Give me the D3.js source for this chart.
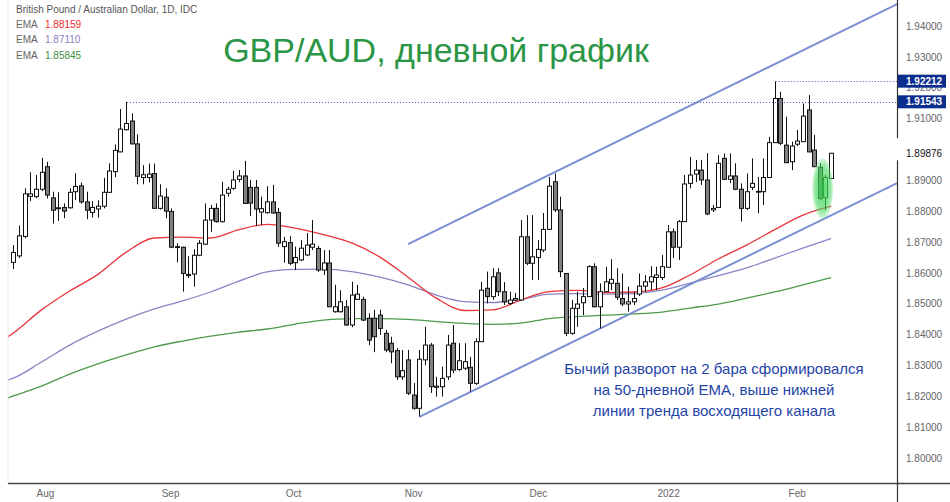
<!DOCTYPE html>
<html><head><meta charset="utf-8">
<script src="https://cdn.jsdelivr.net/npm/d3@7"></script>
<style>body{margin:0;background:#fff}svg{display:block}</style>
</head><body>
<svg id="c" width="950" height="502"></svg>
<script>
// ---------- DATA ----------
const opens = [1.8634,1.8655,1.8718,1.8848,1.8847,1.8871,1.8944,1.8843,1.8808,1.8812,
1.8811,1.8863,1.8882,1.8830,1.8796,1.8807,1.8816,1.8861,1.8928,1.8992,
1.9064,1.9092,1.9018,1.8909,1.8909,1.8922,1.8809,1.8845,1.8799,1.8685,
1.8683,1.8595,1.8596,1.8657,1.8693,1.8771,1.8809,1.8766,1.8858,1.8874,
1.8903,1.8914,1.8877,1.8877,1.8797,1.8795,1.8830,1.8796,1.8685,1.8698,
1.8633,1.8642,1.8658,1.8683,1.8679,1.8609,1.8632,1.8474,1.8474,1.8490,
1.8431,1.8514,1.8514,1.8453,1.8453,1.8463,1.8404,1.8372,1.8348,1.8263,
1.8318,1.8204,1.8161,1.8318,1.8366,1.8229,1.8231,1.8263,1.8372,1.8287,
1.8291,1.8294,1.8242,1.8377,1.8550,1.8523,1.8600,1.8539,1.8501,1.8512,
1.8512,1.8717,1.8631,1.8650,1.8674,1.8741,1.8895,1.8804,1.8598,1.8404,
1.8485,1.8503,1.8523,1.8620,1.8490,1.8539,1.8566,1.8566,1.8517,1.8499,
1.8506,1.8531,1.8557,1.8571,1.8585,1.8585,1.8618,1.8733,1.8683,1.8766,
1.8890,1.8920,1.8933,1.8901,1.8804,1.8812,1.8971,1.8903,1.8914,1.8871,
1.8809,1.8877,1.8864,1.8863,1.8909,1.9022,1.9165,1.9014,1.8960,1.9017,
1.9025,1.9128,1.8998,1.8942,1.8845,1.8906];
const highs = [1.8690,1.8753,1.8874,1.8926,1.8917,1.8973,1.8960,1.8863,1.8861,1.8825,
1.8874,1.8923,1.8893,1.8863,1.8833,1.8835,1.8908,1.8955,1.9016,1.9131,
1.91543,1.9117,1.9049,1.8949,1.8954,1.8954,1.8887,1.8874,1.8809,1.8696,
1.8685,1.8654,1.8676,1.8706,1.8825,1.8820,1.8825,1.8895,1.8879,1.8931,
1.8933,1.8963,1.8901,1.8901,1.8847,1.8881,1.8885,1.8810,1.8717,1.8719,
1.8685,1.8706,1.8729,1.8771,1.8687,1.8674,1.8674,1.8561,1.8544,1.8512,
1.8571,1.8561,1.8523,1.8469,1.8480,1.8480,1.8415,1.8393,1.8356,1.8350,
1.8350,1.8243,1.8350,1.8425,1.8373,1.8263,1.8296,1.8399,1.8431,1.8372,
1.8372,1.8328,1.8388,1.8571,1.8604,1.8615,1.8615,1.8570,1.8539,1.8535,
1.8771,1.8787,1.8787,1.8706,1.8794,1.8911,1.8922,1.8847,1.8599,1.8512,
1.8539,1.8551,1.8625,1.8631,1.8566,1.8620,1.8644,1.8615,1.8598,1.8555,
1.8539,1.8598,1.8593,1.8622,1.8620,1.8658,1.8755,1.8744,1.8771,1.8917,
1.8976,1.8966,1.8966,1.8988,1.8820,1.8982,1.8987,1.8987,1.8955,1.8890,
1.8922,1.8971,1.8911,1.8971,1.9041,1.92212,1.9187,1.9106,1.9025,1.9063,
1.9149,1.9176,1.9047,1.8955,1.8917,1.8988];
const lows = [1.8612,1.8648,1.8712,1.8833,1.8842,1.8865,1.8841,1.8760,1.8768,1.8777,
1.8808,1.8836,1.8824,1.8774,1.8779,1.8779,1.8809,1.8859,1.8910,1.8991,
1.9061,1.9016,1.8887,1.8887,1.8893,1.8807,1.8805,1.8777,1.8680,1.8634,
1.8539,1.8583,1.8555,1.8654,1.8690,1.8733,1.8763,1.8763,1.8847,1.8868,
1.8894,1.8823,1.8784,1.8752,1.8755,1.8792,1.8791,1.8684,1.8633,1.8625,
1.8609,1.8638,1.8654,1.8674,1.8603,1.8593,1.8489,1.8471,1.8471,1.8428,
1.8424,1.8512,1.8444,1.8366,1.8343,1.8399,1.8343,1.8307,1.8253,1.8253,
1.8204,1.8156,1.8134,1.8301,1.8211,1.8199,1.8199,1.8253,1.8275,1.8282,
1.8285,1.8215,1.8237,1.8376,1.8501,1.8512,1.8525,1.8496,1.8496,1.8509,
1.8509,1.8625,1.8577,1.8577,1.8667,1.8739,1.8797,1.8586,1.8395,1.8399,
1.8425,1.8463,1.8522,1.8489,1.8420,1.8538,1.8544,1.8512,1.8492,1.8474,
1.8496,1.8525,1.8538,1.8544,1.8544,1.8577,1.8616,1.8648,1.8642,1.8765,
1.8874,1.8894,1.8885,1.8787,1.8797,1.8810,1.8901,1.8891,1.8868,1.8766,
1.8804,1.8868,1.8793,1.8820,1.8907,1.9021,1.9014,1.8956,1.8933,1.9011,
1.9024,1.8991,1.8943,1.8836,1.8804,1.8906];
const closes = [1.8666,1.8720,1.8856,1.8856,1.8871,1.8926,1.8852,1.8803,1.8811,1.8800,
1.8861,1.8880,1.8830,1.8803,1.8812,1.8816,1.8861,1.8930,1.8997,1.9066,
1.9084,1.9018,1.8913,1.8918,1.8920,1.8809,1.8849,1.8800,1.8683,1.8682,
1.8598,1.8591,1.8657,1.8696,1.8771,1.8809,1.8766,1.8852,1.8871,1.8901,
1.8914,1.8825,1.8826,1.8807,1.8808,1.8830,1.8794,1.8696,1.8701,1.8631,
1.8650,1.8680,1.8690,1.8693,1.8609,1.8632,1.8490,1.8490,1.8506,1.8431,
1.8528,1.8531,1.8447,1.8382,1.8393,1.8420,1.8350,1.8344,1.8263,1.8283,
1.8210,1.8161,1.8320,1.8366,1.8231,1.8233,1.8258,1.8366,1.8285,1.8315,
1.8312,1.8242,1.8377,1.8544,1.8523,1.8587,1.8539,1.8506,1.8512,1.8517,
1.8717,1.8631,1.8652,1.8676,1.8741,1.8881,1.8804,1.8604,1.8404,1.8485,
1.8499,1.8523,1.8620,1.8490,1.8539,1.8571,1.8579,1.8521,1.8499,1.8506,
1.8517,1.8557,1.8571,1.8587,1.8593,1.8620,1.8733,1.8683,1.8766,1.8888,
1.8917,1.8933,1.8901,1.8791,1.8809,1.8955,1.8903,1.8914,1.8871,1.8809,
1.8863,1.8890,1.8862,1.8909,1.9022,1.9165,1.9020,1.8957,1.9011,1.9027,
1.9108,1.8992,1.8944,1.8841,1.8909,1.89876];

// EMA readings (bar index -> value)
const emaBars = [-1,0,5,10,15,20,25,30,35,40,45,50,55,60,65,70,75,80,85,90,95,100,105,110,115,120,125,130,135,140,145];
const ema50  = [1.8392,1.8405,1.8480,1.8541,1.8595,1.8667,1.8713,1.8716,1.8713,1.8740,1.8757,1.8745,1.8724,1.8697,1.8651,1.8586,1.8518,1.8478,1.8480,1.8512,1.8539,1.8543,1.8536,1.8538,1.8551,1.8593,1.8645,1.8690,1.8740,1.8787,1.88159];
const ema100 = [1.8253,1.8259,1.8311,1.8366,1.8411,1.8450,1.8483,1.8509,1.8538,1.8573,1.8603,1.8611,1.8612,1.8604,1.8586,1.8561,1.8528,1.8507,1.8504,1.8514,1.8531,1.8533,1.8531,1.8533,1.8544,1.8567,1.8591,1.8616,1.8648,1.8680,1.87110];
const ema200 = [1.8194,1.8201,1.8233,1.8272,1.8305,1.8334,1.8360,1.8379,1.8395,1.8408,1.8418,1.8434,1.8447,1.8452,1.8452,1.8449,1.8442,1.8436,1.8433,1.8437,1.8452,1.8458,1.8463,1.8467,1.8473,1.8486,1.8499,1.8518,1.8538,1.8561,1.85845];
const emaLabels = ["1.88159","1.87110","1.85845"];

// channel trend lines: [barIndex, price] pairs
const channelUpper = [[70, 1.8693],[156.7, 1.9471]];
const channelLower = [[72, 1.8133],[156.7, 1.8891]];

const monthLabels = ["Aug","Sep","Oct","Nov","Dec","2022","Feb"];
const monthBars = [5.6, 27.8, 49.6, 70.9, 93.0, 116.1, 138.9];
// 1.90000 is hidden behind the last-price label in the reference
const priceTicks = [1.80,1.81,1.82,1.83,1.84,1.85,1.86,1.87,1.88,1.89,1.91,1.92,1.93,1.94];
const highMarks = [{bar:135, value:1.92212}, {bar:20, value:1.91543}];
const lastPrice = 1.89876;
const highlightBars = [143, 144];

const titleText = "GBP/AUD, дневной график";
const legendTitle = "British Pound / Australian Dollar, 1D, IDC";
const noteLines = ["Бычий разворот на 2 бара сформировался","на 50-дневной EMA, выше нижней","линии тренда восходящего канала"];

// ---------- CHART ----------
const svg = d3.select("#c");
const N = closes.length;
const plotL = 8, plotR = 897, plotB = 483;
const x = d3.scaleLinear().domain([0, N-1]).range([13.3, 831.1]);
const y = d3.scaleLinear().domain([1.80, 1.94]).range([458, 26]);

const defs = svg.append("defs");
defs.append("clipPath").attr("id","clip").append("rect")
  .attr("x",plotL).attr("y",0).attr("width",plotR-plotL).attr("height",plotB);
const grad = defs.append("radialGradient").attr("id","glow");
grad.append("stop").attr("offset","0%").attr("stop-color","#34d24e").attr("stop-opacity",0.85);
grad.append("stop").attr("offset","75%").attr("stop-color","#4ad860").attr("stop-opacity",0.6);
grad.append("stop").attr("offset","100%").attr("stop-color","#6be07a").attr("stop-opacity",0.25);

const plot = svg.append("g").attr("clip-path","url(#clip)");

svg.append("line").attr("x1",plotL).attr("x2",plotL).attr("y1",0).attr("y2",plotB)
  .attr("stroke","#e6e6e6");

// EMA lines
const line = d3.line().x(d=>x(d[0])).y(d=>y(d[1])).curve(d3.curveMonotoneX);
[[ema200,"#4c9a4c"],[ema100,"#8a84c6"],[ema50,"#e8343c"]].forEach(([vals,col])=>{
  plot.append("path").datum(emaBars.map((b,i)=>[b,vals[i]]))
    .attr("d",line).attr("fill","none").attr("stroke",col).attr("stroke-width",1.3);
});

// channel lines
const straight = d3.line().x(d=>x(d[0])).y(d=>y(d[1]));
[channelUpper, channelLower].forEach(pts=>{
  plot.append("path").datum(pts).attr("d",straight)
    .attr("stroke","#7d8fd2").attr("stroke-width",2).attr("fill","none");
});

// dotted high lines
highMarks.forEach(m=>{
  svg.append("line").attr("x1",x(m.bar)+1).attr("x2",plotR)
    .attr("y1",Math.round(y(m.value))+0.5).attr("y2",Math.round(y(m.value))+0.5)
    .attr("stroke","#4a55c0").attr("stroke-width",1).attr("stroke-dasharray","1,2");
});

// candles
const bw = 4;
const candles = plot.append("g");
d3.range(N).forEach(i=>{
  const cx = Math.round(x(i)) + 0.5;
  const o = opens[i], c = closes[i];
  const up = c >= o;
  candles.append("line").attr("x1",cx).attr("x2",cx)
    .attr("y1",y(highs[i])).attr("y2",y(lows[i]))
    .attr("stroke","#111").attr("stroke-width",1);
  const top = y(Math.max(o,c)), bot = y(Math.min(o,c));
  candles.append("rect").attr("x",cx-bw/2).attr("y",top)
    .attr("width",bw).attr("height",Math.max(bot-top,0.8))
    .attr("fill", up ? "#ffffff" : "#808080")
    .attr("stroke","#111").attr("stroke-width",1);
});

// green highlight of the 2-bar reversal
const hx = (x(highlightBars[0]) + x(highlightBars[1]))/2;
const hTop = y(d3.max(highlightBars, b=>highs[b]));
const hBot = y(d3.min(highlightBars, b=>lows[b]));
svg.append("ellipse").attr("cx",hx).attr("cy",(hTop+hBot)/2+2)
  .attr("rx",10.5).attr("ry",(hBot-hTop)/2+7)
  .attr("fill","url(#glow)");

// title
svg.append("text").attr("x",436).attr("y",62).attr("text-anchor","middle")
  .attr("font-family","Liberation Sans, Arial, sans-serif").attr("font-size",34)
  .attr("fill","#2b9546").text(titleText);

// annotation
noteLines.forEach((t,i)=>{
  svg.append("text").attr("x",714).attr("y",374+i*21).attr("text-anchor","middle")
    .attr("font-family","Liberation Sans, Arial, sans-serif").attr("font-size",15)
    .attr("fill","#1f44a6").text(t);
});

// legend
const lf = "Liberation Sans, Arial, sans-serif";
svg.append("text").attr("x",16).attr("y",13).attr("font-family",lf).attr("font-size",10)
  .attr("fill","#555").text(legendTitle);
const legCols = ["#ee2a2a","#8b7fc4","#3f8f3f"];
emaLabels.forEach((v,i)=>{
  const yy = 28 + i*15.3;
  svg.append("text").attr("x",16).attr("y",yy).attr("font-family",lf).attr("font-size",10)
    .attr("fill","#666").text("EMA");
  svg.append("text").attr("x",45).attr("y",yy).attr("font-family",lf).attr("font-size",10)
    .attr("fill",legCols[i]).text(v);
});

// axes
const yAxis = d3.axisRight(y).tickValues(priceTicks).tickSize(0).tickPadding(9)
  .tickFormat(d3.format(".5f"));
const ya = svg.append("g").attr("transform",`translate(${plotR},0)`).call(yAxis);
ya.select(".domain").remove();
ya.selectAll("text").attr("font-family",lf).attr("font-size",10).attr("fill","#666");

const xAxis = d3.axisBottom(x).tickValues(monthBars).tickSize(0).tickPadding(7)
  .tickFormat((d,i)=>monthLabels[i]);
const xa = svg.append("g").attr("transform",`translate(0,${plotB})`).call(xAxis);
xa.select(".domain").remove();
xa.selectAll("text").attr("font-family",lf).attr("font-size",10).attr("fill","#666");

svg.append("line").attr("x1",plotL).attr("x2",950).attr("y1",plotB+0.5).attr("y2",plotB+0.5)
  .attr("stroke","#444").attr("stroke-width",1.5);
svg.append("line").attr("x1",plotR+0.5).attr("x2",plotR+0.5).attr("y1",0).attr("y2",502)
  .attr("stroke","#333").attr("stroke-width",1.2);

// price markers
highMarks.forEach(m=>{
  const yy = y(m.value);
  svg.append("rect").attr("x",plotR+1).attr("y",yy-6.5).attr("width",48).attr("height",13)
    .attr("fill","#0b2d8e");
  svg.append("text").attr("x",plotR+9).attr("y",yy+3.6).attr("font-family",lf)
    .attr("font-size",10).attr("font-weight","bold").attr("fill","#fff").text(m.value.toFixed(5));
});
const ly = y(lastPrice);
svg.append("rect").attr("x",plotR-1).attr("y",ly-15).attr("width",53).attr("height",22).attr("fill","#fff");
svg.append("text").attr("x",plotR+9).attr("y",ly+3.6).attr("font-family",lf)
  .attr("font-size",10).attr("fill","#111").text(lastPrice.toFixed(5));
</script>
</body></html>
